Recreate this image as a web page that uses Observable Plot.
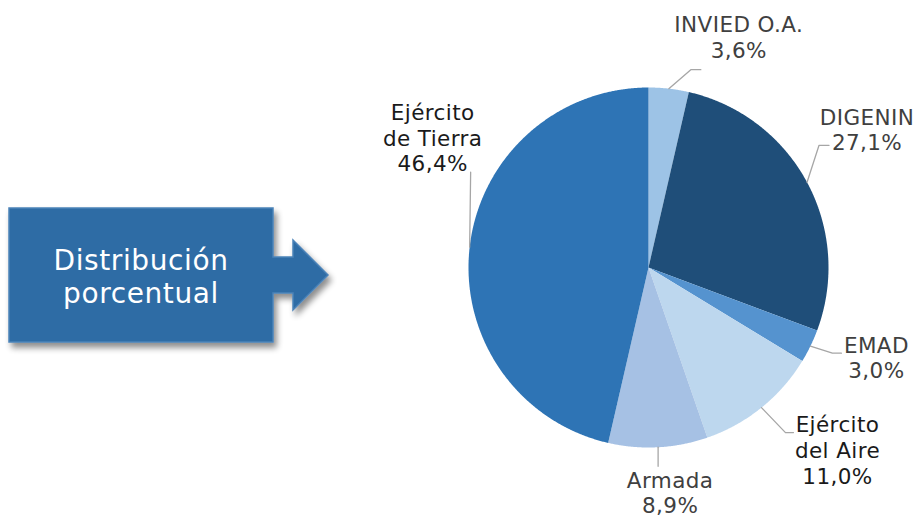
<!DOCTYPE html>
<html>
<head>
<meta charset="utf-8">
<script src="https://cdn.jsdelivr.net/npm/d3@7"></script>
<script src="https://cdn.jsdelivr.net/npm/@observablehq/plot@0.6"></script>
<style>
  html, body { margin: 0; padding: 0; background: #ffffff; }
  #wrap { position: relative; width: 922px; height: 520px; overflow: hidden; font-family: "DejaVu Sans", Verdana, sans-serif; }
  #chart { position: absolute; left: 0; top: 0; }
  #arrow { position: absolute; left: 0; top: 0; }
  #arrowText { position: absolute; left: 9px; width: 264px; top: 244px; text-align: center; color: #ffffff; font-size: 28px; line-height: 33px; letter-spacing: 0.6px; }
</style>
</head>
<body>
<div id="wrap">
  <div id="chart"></div>
  <svg id="arrow" width="340" height="380" viewBox="0 0 340 380">
    <defs>
      <filter id="shadow" x="-10%" y="-10%" width="130%" height="140%">
        <feGaussianBlur in="SourceAlpha" stdDeviation="3"/>
        <feOffset dx="3" dy="5" result="b"/>
        <feComponentTransfer><feFuncA type="linear" slope="0.45"/></feComponentTransfer>
        <feMerge><feMergeNode/><feMergeNode in="SourceGraphic"/></feMerge>
      </filter>
    </defs>
    <polygon filter="url(#shadow)" fill="#2e6ca5" stroke="#4b82b8" stroke-width="1.5"
      points="9,208 273,208 273,257 293,257 293,240 328,275 293,310 293,293 273,293 273,342 9,342"/>
  </svg>
  <div id="arrowText">Distribución<br>porcentual</div>
</div>
<script>
// ---- data ----
const categories = ["INVIED O.A.", "DIGENIN", "EMAD", "Ejército del Aire", "Armada", "Ejército de Tierra"];
const labelNames = ["INVIED O.A.", "DIGENIN", "EMAD", "Ejército\ndel Aire", "Armada", "Ejército\nde Tierra"];
const shares = [3.6, 27.1, 3.0, 11.0, 8.9, 46.4];

// ---- styles ----
const sliceColors = ["#9dc3e6", "#1f4e79", "#5593cf", "#bdd7ee", "#a6c1e4", "#2e74b5"];
const labelInk = ["#404040", "#404040", "#404040", "#1a1a1a", "#404040", "#1a1a1a"];

// ---- layout (pixels) ----
const W = 922, H = 520;
const pieCX = 648, pieCY = 267, R = 180;
const leaderElbow = [[22, -19], [12, -37], [22, 7], [24, 25], [0, 19], [1, -75]];
const leaderStub = [10, 10, 9, 8, 0, 0];
const labelOffset = [[70, -31], [60, -32], [66, 32], [76, 76], [12, 66], [-37, -76]];

const fmt = v => v.toFixed(1).replace(".", ",") + "%";

const rows = categories.map((c, i) => ({name: c, share: shares[i], label: labelNames[i] + "\n" + fmt(shares[i]), i}));
const arcs = d3.pie().sort(null).value(d => d.share)(rows);

// slice outlines (unit circle coordinates)
const slicePts = [];
arcs.forEach(a => {
  slicePts.push({name: a.data.name, x: 0, y: 0});
  const n = Math.max(2, Math.ceil((a.endAngle - a.startAngle) / 0.005));
  for (let k = 0; k <= n; k++) {
    const t = a.startAngle + (a.endAngle - a.startAngle) * k / n;
    slicePts.push({name: a.data.name, x: Math.sin(t), y: Math.cos(t)});
  }
  slicePts.push({name: a.data.name, x: 0, y: 0});
});

// leaders and labels
const leaderPts = [];
const labels = [];
arcs.forEach(a => {
  const i = a.data.i;
  const m = (a.startAngle + a.endAngle) / 2;
  const ax = Math.sin(m), ay = Math.cos(m);
  const [ex, ey] = leaderElbow[i];
  leaderPts.push({name: a.data.name, x: ax, y: ay});
  leaderPts.push({name: a.data.name, x: ax + ex / R, y: ay - ey / R});
  if (leaderStub[i]) leaderPts.push({name: a.data.name, x: ax + (ex + leaderStub[i]) / R, y: ay - ey / R});
  const [lx, ly] = labelOffset[i];
  labels.push({name: a.data.name, label: a.data.label, x: ax + lx / R, y: ay - ly / R, ink: labelInk[i]});
});

const darkInk = labels.filter(d => d.ink === "#1a1a1a");
const grayInk = labels.filter(d => d.ink !== "#1a1a1a");

const chart = Plot.plot({
  width: W,
  height: H,
  margin: 0,
  style: {fontFamily: "'DejaVu Sans', Verdana, sans-serif", fontSize: "21.5px", letterSpacing: "0.4px", background: "transparent", overflow: "visible"},
  x: {domain: [-1, 1], range: [pieCX - R, pieCX + R], axis: null},
  y: {domain: [-1, 1], range: [pieCY + R, pieCY - R], axis: null},
  color: {domain: categories, range: sliceColors},
  marks: [
    Plot.line(slicePts, {x: "x", y: "y", z: "name", fill: "name", stroke: "none", curve: "linear"}),
    Plot.line(leaderPts, {x: "x", y: "y", z: "name", stroke: "#a6a6a6", strokeWidth: 1.3, curve: "linear"}),
    Plot.text(grayInk, {x: "x", y: "y", text: "label", fill: "#404040", textAnchor: "middle", lineAnchor: "bottom", lineHeight: 1.19}),
    Plot.text(darkInk, {x: "x", y: "y", text: "label", fill: "#1a1a1a", textAnchor: "middle", lineAnchor: "bottom", lineHeight: 1.19})
  ]
});
document.getElementById("chart").appendChild(chart);
</script>
</body>
</html>
